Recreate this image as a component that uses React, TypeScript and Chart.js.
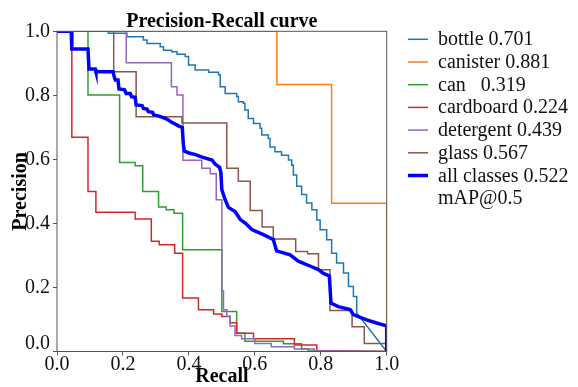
import React, { useEffect, useRef } from 'react';
import { Chart, registerables } from 'chart.js';

Chart.register(...registerables);

const SERIF = '"Liberation Serif", "Times New Roman", Times, serif';

const TICKS = [0, 0.2, 0.4, 0.6, 0.8, 1.0];

const CLASS_NAMES = ['bottle 0.701', 'canister 0.881', 'can   0.319', 'cardboard 0.224', 'detergent 0.439', 'glass 0.567'];
const ALL_LABEL = 'all classes 0.522';
const ALL_LABEL_2 = 'mAP@0.5';

const CLASS_COLORS = ['#1f77b4', '#ff7f0e', '#2ca02c', '#d62728', '#9467bd', '#8c564b'];
const ALL_COLOR = '#0000ff';

// step nodes: precision[i] holds from recall[i] to recall[i+1]
const bottleRecall = [0, 0.156, 0.212, 0.262, 0.273, 0.313, 0.323, 0.348, 0.364, 0.389, 0.399, 0.419, 0.46, 0.49, 0.495, 0.51, 0.545, 0.55, 0.565, 0.57, 0.58, 0.596, 0.616, 0.621, 0.641, 0.646, 0.661, 0.681, 0.702, 0.712, 0.717, 0.727, 0.742, 0.757, 0.773, 0.788, 0.798, 0.818, 0.833, 0.848, 0.869, 0.884, 0.899, 0.909];
const bottlePrecision = [1, 0.994, 0.983, 0.973, 0.962, 0.952, 0.941, 0.936, 0.928, 0.921, 0.895, 0.879, 0.872, 0.864, 0.827, 0.806, 0.796, 0.78, 0.775, 0.754, 0.728, 0.712, 0.697, 0.676, 0.665, 0.639, 0.624, 0.613, 0.598, 0.582, 0.551, 0.516, 0.49, 0.464, 0.443, 0.411, 0.38, 0.349, 0.307, 0.276, 0.245, 0.203, 0.172, 0.12];

const canisterRecall = [0, 0.667, 0.833, 1.0];
const canisterPrecision = [1, 0.834, 0.463, 0.463];

const canRecall = [0, 0.094, 0.19, 0.237, 0.26, 0.308, 0.331, 0.355, 0.381, 0.5, 0.545, 0.57, 0.687, 0.742, 0.762];
const canPrecision = [1, 0.801, 0.59, 0.58, 0.5, 0.451, 0.443, 0.432, 0.318, 0.125, 0.057, 0.032, 0.024, 0.008, 0.002];

const cardboardRecall = [0, 0.045, 0.094, 0.118, 0.237, 0.286, 0.31, 0.357, 0.381, 0.429, 0.475, 0.5, 0.525, 0.545, 0.596, 0.72, 0.788];
const cardboardPrecision = [1, 0.669, 0.5, 0.435, 0.414, 0.344, 0.333, 0.307, 0.167, 0.13, 0.117, 0.109, 0.09, 0.057, 0.04, 0.02, 0.002];

const detergentRecall = [0, 0.21, 0.347, 0.364, 0.382, 0.439, 0.465, 0.483, 0.5, 0.505, 0.515, 0.525, 0.54, 0.56, 0.6, 0.65, 0.72, 0.78];
const detergentPrecision = [1, 0.902, 0.827, 0.801, 0.597, 0.572, 0.555, 0.474, 0.19, 0.13, 0.11, 0.08, 0.05, 0.04, 0.025, 0.015, 0.008, 0.002];

const glassRecall = [0, 0.172, 0.24, 0.379, 0.515, 0.55, 0.586, 0.622, 0.656, 0.724, 0.76, 0.793, 0.828, 0.895, 0.932, 1.0];
const glassPrecision = [1, 0.874, 0.733, 0.714, 0.572, 0.532, 0.44, 0.389, 0.351, 0.312, 0.305, 0.255, 0.128, 0.077, 0.025, 0.025];

// mean curve (polyline)
const allRecall = [0, 0.043, 0.045, 0.094, 0.097, 0.116, 0.118, 0.17, 0.173, 0.177, 0.185, 0.188, 0.205, 0.21, 0.222, 0.226, 0.237, 0.24, 0.258, 0.262, 0.273, 0.277, 0.29, 0.293, 0.31, 0.333, 0.348, 0.37, 0.38, 0.383, 0.386, 0.4, 0.42, 0.44, 0.47, 0.48, 0.493, 0.497, 0.5, 0.51, 0.52, 0.54, 0.556, 0.571, 0.591, 0.626, 0.656, 0.666, 0.707, 0.732, 0.767, 0.793, 0.808, 0.826, 0.831, 0.853, 0.889, 0.899, 0.939, 0.969, 1.0, 1.0];
const allPrecision = [1, 1, 0.945, 0.945, 0.882, 0.882, 0.874, 0.874, 0.86, 0.848, 0.848, 0.82, 0.817, 0.806, 0.806, 0.796, 0.794, 0.77, 0.768, 0.759, 0.757, 0.749, 0.747, 0.739, 0.735, 0.726, 0.716, 0.704, 0.7, 0.65, 0.626, 0.62, 0.615, 0.607, 0.598, 0.585, 0.575, 0.56, 0.505, 0.474, 0.45, 0.437, 0.412, 0.401, 0.381, 0.365, 0.35, 0.314, 0.302, 0.282, 0.267, 0.256, 0.244, 0.236, 0.151, 0.14, 0.131, 0.115, 0.099, 0.089, 0.08, 0];

function stepPoints(r: number[], p: number[]) {
  const pts: { x: number; y: number }[] = [];
  for (let i = 0; i < r.length; i++) {
    pts.push({ x: r[i], y: p[i] });
    if (i + 1 < r.length) pts.push({ x: r[i + 1], y: p[i] });
  }
  pts.push({ x: 1, y: 0 });
  return pts;
}

const overlay = {
  id: 'overlay',
  afterDatasetsDraw(chart: any) {
    const { ctx, chartArea } = chart;
    ctx.save();
    ctx.strokeStyle = '#555';
    ctx.lineWidth = 1;
    ctx.strokeRect(chartArea.left, chartArea.top, chartArea.right - chartArea.left, chartArea.bottom - chartArea.top);
    ctx.restore();
  },
  afterDraw(chart: any) {
    const { ctx, chartArea } = chart;
    ctx.save();
    // title
    ctx.fillStyle = '#000';
    ctx.font = `bold 20px ${SERIF}`;
    ctx.textAlign = 'center';
    ctx.textBaseline = 'alphabetic';
    ctx.fillText('Precision-Recall curve', (chartArea.left + chartArea.right) / 2, 27);
    // y 0.0 label (raised as in reference)
    ctx.font = `20px ${SERIF}`;
    ctx.textAlign = 'right';
    ctx.textBaseline = 'middle';
    ctx.fillStyle = '#111';
    ctx.fillText('0.0', chartArea.left - 7, chartArea.bottom - 8);
    // legend
    const ds = chart.data.datasets;
    const x0 = 408;
    const x1 = 428;
    const tx = 438;
    const base0 = 45.3;
    const step = 22.7;
    ctx.textAlign = 'left';
    ctx.textBaseline = 'alphabetic';
    const legendOrder = [1, 2, 3, 4, 5, 6, 0];
    legendOrder.forEach((di, row) => {
      const d = ds[di];
      const by = base0 + row * step;
      ctx.strokeStyle = d.borderColor;
      ctx.lineWidth = d.borderWidth;
      ctx.beginPath();
      ctx.moveTo(x0, by - 6);
      ctx.lineTo(x1, by - 6);
      ctx.stroke();
      ctx.fillStyle = '#111';
      ctx.fillText(d.label, tx, by);
    });
    ctx.fillText(ALL_LABEL_2, tx, base0 + 7 * step);
    ctx.restore();
  },
};

export default function App() {
  const ref = useRef<HTMLCanvasElement>(null);
  useEffect(() => {
    if (!ref.current) return;
    const classData = [
      stepPoints(bottleRecall, bottlePrecision),
      stepPoints(canisterRecall, canisterPrecision),
      stepPoints(canRecall, canPrecision),
      stepPoints(cardboardRecall, cardboardPrecision),
      stepPoints(detergentRecall, detergentPrecision),
      stepPoints(glassRecall, glassPrecision),
    ];
    const allData = allRecall.map((r, i) => ({ x: r, y: allPrecision[i] }));
    const datasets: any[] = [
      {
        label: ALL_LABEL,
        data: allData,
        borderColor: ALL_COLOR,
        borderWidth: 3.5,
        pointRadius: 0,
        fill: false,
        order: 0,
      },
      ...classData.map((d, i) => ({
        label: CLASS_NAMES[i],
        data: d,
        borderColor: CLASS_COLORS[i],
        borderWidth: 1.5,
        pointRadius: 0,
        fill: false,
        order: 6 - i,
      })),
    ];
    const tickFont = { family: SERIF, size: 20 };
    const chart = new Chart(ref.current, {
      type: 'line',
      data: { datasets },
      plugins: [overlay],
      options: {
        animation: false,
        responsive: false,
        maintainAspectRatio: false,
        layout: { padding: { top: 31.3, left: 0, right: 191.3, bottom: 0 } },
        plugins: { legend: { display: false }, tooltip: { enabled: false }, title: { display: false } },
        scales: {
          x: {
            type: 'linear',
            min: 0,
            max: 1,
            afterFit: (s: any) => { s.height = 35.5; },
            afterBuildTicks: (s: any) => { s.ticks = TICKS.map((v) => ({ value: v })); },
            ticks: {
              font: tickFont,
              color: '#111',
              padding: -3,
              maxRotation: 0,
              autoSkip: false,
              callback: (v: any) => Number(v).toFixed(1),
            },
            grid: { display: true, drawOnChartArea: false, drawTicks: true, tickLength: 4, color: '#555' },
            border: { display: false },
            title: {
              display: true,
              text: 'Recall',
              color: '#000',
              font: { family: SERIF, size: 20, weight: 'bold', lineHeight: 1 },
              padding: { top: 0, bottom: 0 },
            },
          },
          y: {
            type: 'linear',
            min: 0,
            max: 1,
            afterFit: (s: any) => { s.width = 57; },
            afterBuildTicks: (s: any) => { s.ticks = TICKS.map((v) => ({ value: v })); },
            ticks: {
              font: tickFont,
              color: '#111',
              padding: 3,
              autoSkip: false,
              callback: (v: any) => (Number(v) === 0 ? '' : Number(v).toFixed(1)),
            },
            grid: { display: true, drawOnChartArea: false, drawTicks: true, tickLength: 4, color: '#555' },
            border: { display: false },
            title: {
              display: true,
              text: 'Precision',
              color: '#000',
              font: { family: SERIF, size: 20, weight: 'bold', lineHeight: 1 },
              padding: { top: 11, bottom: 0 },
            },
          },
        },
      } as any,
    });
    return () => chart.destroy();
  }, []);
  return (
    <div style={{ position: 'absolute', left: 0, top: 0, width: 578, height: 387, background: '#fff' }}>
      <canvas ref={ref} width={578} height={387} style={{ display: 'block', width: 578, height: 387 }} />
    </div>
  );
}
